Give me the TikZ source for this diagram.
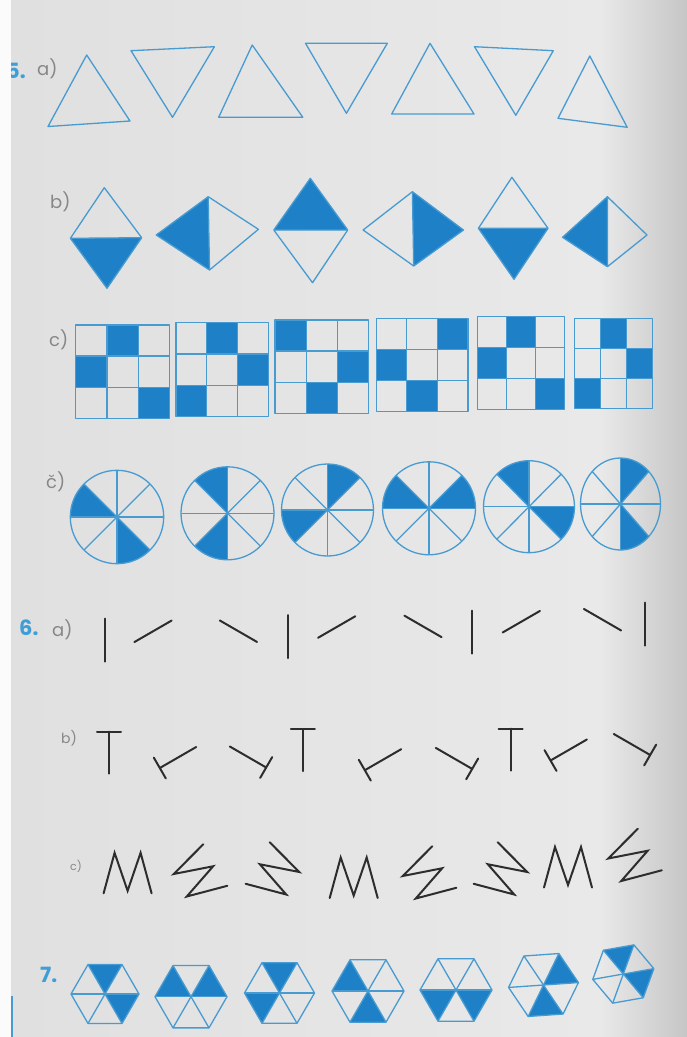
\documentclass[tikz,border=0pt]{standalone}
\usepackage{fontspec}
\setmainfont{Poppins}
\definecolor{bline}{RGB}{72,155,208}
\definecolor{bfill}{RGB}{30,128,198}
\definecolor{ink}{RGB}{45,45,45}
\definecolor{lbl}{RGB}{135,135,135}
\definecolor{numc}{RGB}{62,158,214}
\definecolor{bgA}{RGB}{224,224,224}
\definecolor{bgB}{RGB}{233,233,233}
\definecolor{bgC}{RGB}{198,198,198}
\newcommand{\gridfig}[7]{%
  \foreach \r/\c in {0/#5,1/#6,2/#7}{%
    \fill[bfill] ({#1+(\c-1)*(#3-#1)/3},{#2+\r*(#4-#2)/3}) rectangle ({#1+\c*(#3-#1)/3},{#2+(\r+1)*(#4-#2)/3});}
  \draw[outl] (#1,#2) rectangle (#3,#4);
  \foreach \k in {1,2}{%
    \draw[outl] ({#1+\k*(#3-#1)/3},#2) -- ({#1+\k*(#3-#1)/3},#4);
    \draw[outl] (#1,{#2+\k*(#4-#2)/3}) -- (#3,{#2+\k*(#4-#2)/3});}
}
\newcommand{\circfig}[6]{%
  \foreach \s in {#5,#6}{%
    \fill[bfill] (#1,#2) -- plot[domain=\s:\s+45, samples=16] ({#1+#3*cos(\x)},{#2-#4*sin(\x)}) -- cycle;}
  \draw[outl] (#1,#2) ellipse [x radius=#3pt, y radius=#4pt];
  \foreach \a in {0,45,90,135}{%
    \draw[outl] ({#1+#3*cos(\a)},{#2-#4*sin(\a)}) -- ({#1-#3*cos(\a)},{#2+#4*sin(\a)});}
}
\newcommand{\hexfig}[6]{%
  \begin{scope}[shift={(#1,#2)}, rotate=#4]
    \foreach \s in {#5,#6}{%
      \fill[bfill] (0,0) -- ({#3*cos(\s)},{-#3*sin(\s)}) -- ({#3*cos(\s+60)},{-#3*sin(\s+60)}) -- cycle;}
    \draw[outl] ({#3},0) -- ({#3*cos(60)},{-#3*sin(60)}) -- ({#3*cos(120)},{-#3*sin(120)}) -- ({-#3},0)
      -- ({#3*cos(240)},{-#3*sin(240)}) -- ({#3*cos(300)},{-#3*sin(300)}) -- cycle;
    \foreach \a in {0,60,120}{%
      \draw[outl] ({#3*cos(\a)},{-#3*sin(\a)}) -- ({-#3*cos(\a)},{#3*sin(\a)});}
  \end{scope}
}
\newcommand{\barfig}[3]{%
  \begin{scope}[shift={(#1,#2)}, rotate=#3]
    \draw[stroke] (0,-21.5) -- (0,21.5);
  \end{scope}
}
\newcommand{\tfig}[3]{%
  \begin{scope}[shift={(#1,#2)}, rotate=#3]
    \draw[stroke] (-12,-21) -- (12,-21) (0,-21) -- (0,21);
  \end{scope}
}
\newcommand{\mfig}[3]{%
  \begin{scope}[shift={(#1,#2)}, rotate=#3]
    \draw[stroke] (-24,20) -- (-13,-20.5) -- (0,17.5) -- (13,-20.5) -- (24,20);
  \end{scope}
}
\begin{document}
\begin{tikzpicture}[x=1pt,y=-1pt,
  outl/.style={draw=bline, line width=1.3pt, line join=round},
  stroke/.style={draw=ink, line width=2pt, line cap=round, line join=miter},
  num/.style={font=\bfseries\fontsize{21}{21}\selectfont, text=numc, inner sep=0pt, anchor=west},
  lab/.style={font=\fontsize{18}{18}\selectfont, text=lbl, inner sep=0pt, anchor=west}]
\useasboundingbox (0,0) rectangle (687,1037);
% background (photographed page)
\fill[white!97!gray] (0,0) rectangle (687,1037);
\shade[left color=bgA, right color=bgB] (11,0) rectangle (600,1037);
\shade[left color=bgB, right color=bgC] (600,0) rectangle (687,1037);

% ---------- 5 a) triangles
\node[num] (n5) at (6,71) {5.};
\node[lab] (l5a) at (37,69) {a)};
\draw[outl] (86.7,55) -- (48,126.5) -- (130,121) -- cycle;
\draw[outl] (131,50.7) -- (214.4,46.7) -- (172.5,117.3) -- cycle;
\draw[outl] (252.2,45) -- (218.7,117.3) -- (302.8,117.3) -- cycle;
\draw[outl] (305.5,43.3) -- (387.3,43.3) -- (346.4,113.3) -- cycle;
\draw[outl] (430,43.3) -- (391.7,114) -- (474,114) -- cycle;
\draw[outl] (474.5,46.7) -- (553.3,50.7) -- (515.8,115.3) -- cycle;
\draw[outl] (589.8,56) -- (558,118.3) -- (627.2,127.3) -- cycle;

% ---------- 5 b) diamonds
\node[lab] (l5b) at (50,202) {b)};
% D1 bottom filled
\fill[bfill] (70.4,238.3) -- (141.7,237.7) -- (107,288.3) -- cycle;
\draw[outl] (104.3,187.7) -- (141.7,237.7) -- (107,288.3) -- (70.4,238.3) -- cycle (70.4,238.3) -- (141.7,237.7);
% D2 left filled
\fill[bfill] (208.2,196.7) -- (156.2,235) -- (209.5,270) -- cycle;
\draw[outl] (208.2,196.7) -- (258.4,229.3) -- (209.5,270) -- (156.2,235) -- cycle (208.2,196.7) -- (209.5,270);
% D3 top filled
\fill[bfill] (310.3,178.3) -- (347.7,230) -- (273.8,230) -- cycle;
\draw[outl] (310.3,178.3) -- (347.7,230) -- (312.5,282.7) -- (273.8,230) -- cycle (273.8,230) -- (347.7,230);
% D4 right filled
\fill[bfill] (412.4,191.7) -- (463.5,230) -- (413.7,266) -- cycle;
\draw[outl] (412.4,191.7) -- (463.5,230) -- (413.7,266) -- (363.1,230) -- cycle (412.4,191.7) -- (413.7,266);
% D5 bottom filled
\fill[bfill] (478.4,228.3) -- (548,228.3) -- (514,279.3) -- cycle;
\draw[outl] (511.9,177.3) -- (548,228.3) -- (514,279.3) -- (478.4,228.3) -- cycle (478.4,228.3) -- (548,228.3);
% D6 left filled
\fill[bfill] (607.4,196.7) -- (562.5,237.3) -- (607.4,266.7) -- cycle;
\draw[outl] (607.4,196.7) -- (647,235) -- (607.4,266.7) -- (562.5,237.3) -- cycle (607.4,196.7) -- (607.4,266.7);

% ---------- 5 c) grids
\node[lab] (l5c) at (49,340) {c)};
\gridfig{75.7}{325}{169.5}{418.3}{2}{1}{3}
\gridfig{176}{322.7}{268.5}{416.7}{2}{3}{1}
\gridfig{275}{320}{368.8}{413.3}{1}{3}{2}
\gridfig{376.3}{318.3}{467.9}{411.7}{3}{1}{2}
\gridfig{477.5}{316.7}{564.7}{409.3}{2}{1}{3}
\gridfig{574.4}{318.3}{652.3}{408.3}{2}{3}{1}

% ---------- 5 č) circles
\node[lab] (l5d) at (46,482) {č)};
\circfig{117}{517}{46.7}{46.7}{135}{270}
\circfig{227.5}{513.3}{46.5}{46.5}{90}{225}
\circfig{327.5}{510}{46}{46}{45}{180}
\circfig{429}{508.3}{46.5}{46.5}{0}{135}
\circfig{529}{506.7}{45.5}{46}{315}{90}
\circfig{620.5}{504}{40}{46}{270}{45}

% ---------- 6 a) bars
\node[num] (n6) at (19,628) {6.};
\node[lab] (l6a) at (52,630) {a)};
\barfig{104.8}{640}{0}
\barfig{153}{631.3}{120}
\barfig{238.4}{631.2}{240}
\barfig{288.3}{636.7}{0}
\barfig{336.7}{627}{120}
\barfig{423}{626.4}{240}
\barfig{471.8}{632}{0}
\barfig{521.3}{621.7}{120}
\barfig{602.5}{619.7}{240}
\barfig{644.8}{624}{0}

% ---------- 6 b) T shapes
\node[lab, font=\fontsize{14}{14}\selectfont] (l6b) at (61,738) {b)};
\tfig{109}{752.5}{0}
\tfig{178}{757.5}{120}
\tfig{248}{757}{240}
\tfig{302.8}{750}{0}
\tfig{383}{759.7}{120}
\tfig{454}{758.4}{240}
\tfig{510.6}{749.7}{0}
\tfig{568.7}{750}{120}
\tfig{632}{744.5}{240}

% ---------- 6 c) M shapes
\node[lab, font=\fontsize{11}{11}\selectfont] (l6c) at (70,866) {c)};
\mfig{127.6}{873.3}{0}
\mfig{198}{875}{120}
\mfig{275}{873}{240}
\mfig{353.7}{878}{0}
\mfig{427}{877}{120}
\mfig{503}{873}{240}
\mfig{568}{867.5}{0}
\mfig{632.5}{859.5}{120}

% ---------- 7 hexagons
\node[num] (n7) at (40,975) {7.};
\hexfig{105}{994}{34}{0}{60}{300}
\hexfig{191}{996.7}{36}{0}{0}{120}
\hexfig{279.5}{993}{35}{0}{60}{180}
\hexfig{368}{991}{36}{0}{120}{240}
\hexfig{456}{990}{36}{0}{180}{300}
\hexfig{543.5}{985}{35}{4}{0}{240}
\hexfig{623.3}{974}{31}{10}{60}{300}

% left page edge
\fill[white!97!gray] (0,0) rectangle (11,1037);
\draw[bline, line width=1.6pt] (11.8,996) -- (11.8,1037);
\end{tikzpicture}
\end{document}
